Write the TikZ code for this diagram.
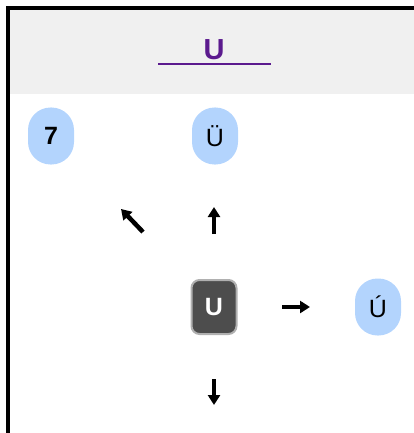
\documentclass[tikz,border=0pt]{standalone}
\usepackage{fontspec}
\setmainfont{Liberation Sans}
\usetikzlibrary{arrows.meta}
\definecolor{hdrgray}{RGB}{240,240,240}
\definecolor{titlepurple}{RGB}{91,26,142}
\definecolor{pillblue}{RGB}{179,212,253}
\definecolor{darkbox}{RGB}{77,77,77}
\definecolor{boxedge}{RGB}{176,176,176}
\tikzset{
  pill/.style={fill=pillblue, rounded corners=22.5pt, minimum width=46pt, minimum height=57pt, inner sep=0pt, text=black},
  current/.style={fill=darkbox, draw=boxedge, line width=2pt, rounded corners=8pt, minimum width=45pt, minimum height=54pt, inner sep=0pt, text=white},
  bigarrow/.style={line width=4.5pt, -{Triangle[width=12pt,length=10pt]}}
}
\begin{document}
\begin{tikzpicture}[x=1pt,y=-1pt]
\useasboundingbox (0,0) rectangle (414,433);
% header
\fill[hdrgray] (10,10) rectangle (414,94);
% frame
\fill[black] (6,6) rectangle (414,10);
\fill[black] (6,6) rectangle (10,433);
% title
\node[text=titlepurple, font=\fontsize{29}{31}\selectfont\bfseries] (title) at (214,50) {U};
\draw[titlepurple, line width=2pt] (158,64) -- (271,64);
% nodes
\node[pill, font=\fontsize{25}{27}\selectfont\bfseries] (n7) at (51,136) {7};
\node[pill, font=\fontsize{25}{27}\selectfont] (nUe) at (215,136) {Ü};
\node[current, font=\fontsize{25}{27}\selectfont\bfseries] (cur) at (214,307) {U};
\node[pill, font=\fontsize{25}{27}\selectfont] (nUa) at (378,307) {Ú};
% arrow coordinates
\coordinate (upS) at (214,234);
\coordinate (upE) at (214,207);
\coordinate (ulS) at (143,232);
\coordinate (ulE) at (121,209);
\coordinate (rtS) at (282,307);
\coordinate (rtE) at (310,307);
\coordinate (dnS) at (214,379);
\coordinate (dnE) at (214,405);
\draw[bigarrow] (upS) -- (upE);
\draw[bigarrow] (ulS) -- (ulE);
\draw[bigarrow] (rtS) -- (rtE);
\draw[bigarrow] (dnS) -- (dnE);
\end{tikzpicture}
\end{document}
